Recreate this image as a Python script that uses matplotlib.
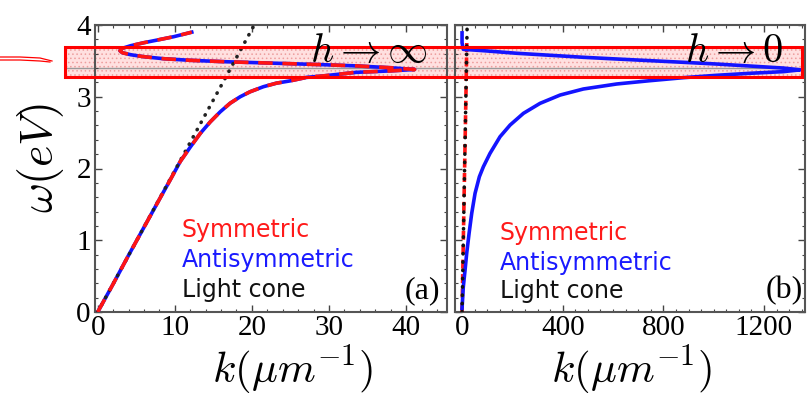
import matplotlib
matplotlib.use("Agg")
import matplotlib.pyplot as plt
from matplotlib.patches import Rectangle
from matplotlib.lines import Line2D
from matplotlib.ticker import MultipleLocator

plt.rcParams['mathtext.fontset'] = 'cm'
plt.rcParams['hatch.linewidth'] = 0.6

# ---- data ----
# panel (a): h -> infinity, symmetric and antisymmetric coincide
a_k = [0.0, 2.0, 4.0, 6.0, 8.0, 9.5, 10.72, 12.02, 13.31, 14.6, 15.89, 17.18, 18.48, 19.77,
       21.49, 23.2, 24.9, 27.1, 29.2, 33.5, 37.9, 41.1,
       37.9, 33.55, 29.2, 24.9, 20.6, 16.3, 12.0, 8.57, 5.98, 4.26, 3.19, 2.88,
       3.19, 4.26, 5.98, 7.71, 9.86, 12.2]
a_w = [0.0, 0.39, 0.79, 1.18, 1.57, 1.86, 2.10, 2.30, 2.49, 2.65, 2.79, 2.91, 3.00, 3.07,
       3.14, 3.19, 3.22, 3.27, 3.29, 3.34, 3.36, 3.38,
       3.405, 3.43, 3.447, 3.461, 3.475, 3.489, 3.508, 3.53, 3.558, 3.586, 3.614, 3.642,
       3.675, 3.711, 3.753, 3.79, 3.837, 3.90]
# light cone
lc_k = [0.0, 20.3]
lc_w = [0.0, 4.0]
# panel (b): h -> 0
bs_k = [0.0, 4.0, 8.0, 12.0, 16.0, 19.0]
bs_w = [0.0, 0.78, 1.57, 2.35, 3.12, 3.80]
ba_k = [0.0, 5.0, 12.0, 18.5, 28.0, 38.5, 51.7, 68.9, 84.8, 111.0, 151.0, 191.0, 244.0, 310.0,
        390.0, 482.0, 615.0, 747.0, 880.0, 1012.0, 1145.0, 1277.0, 1344.0,
        1277.0, 1145.0, 1012.0, 880.0, 747.0, 615.0, 482.0, 350.0, 217.0, 85.0, 5.0,
        0.0, 0.0]
ba_w = [0.05, 0.35, 0.585, 0.818, 1.097, 1.376, 1.654, 1.886, 2.025, 2.21, 2.443, 2.606, 2.769, 2.908,
        3.024, 3.108, 3.178, 3.224, 3.266, 3.299, 3.327, 3.35, 3.375,
        3.40, 3.428, 3.456, 3.48, 3.503, 3.526, 3.55, 3.578, 3.606, 3.642, 3.661,
        3.75, 3.89]

labels = ["Symmetric", "Antisymmetric", "Light cone"]
label_colors = ["#ff1a1a", "#1a1aff", "#111111"]

W, H = 812, 396
fig = plt.figure(figsize=(W / 100, H / 100), dpi=100)

def ax_rect(l, r, t, b):
    return [l / W, 1 - b / H, (r - l) / W, (b - t) / H]

axA = fig.add_axes(ax_rect(95, 447, 25, 312))
axB = fig.add_axes(ax_rect(455, 805, 25, 312))

serif = "Liberation Serif"
for ax in (axA, axB):
    ax.set_facecolor('none')
    ax.set_ylim(0, 4)
    ax.yaxis.set_major_locator(MultipleLocator(1))
    ax.yaxis.set_minor_locator(MultipleLocator(0.2))
    ax.tick_params(which='both', direction='in', top=True, right=True, color='#444444')
    ax.tick_params(which='major', length=5, width=1.0)
    ax.tick_params(which='minor', length=2.5, width=0.8)
    for s in ax.spines.values():
        s.set_color('#555555')
        s.set_linewidth(1.5)
    ax.tick_params(axis='x', labelsize=21, pad=2)
    ax.tick_params(axis='y', labelsize=21, pad=3)

axA.set_xlim(-0.35, 45.3)
axA.xaxis.set_major_locator(MultipleLocator(10))
axA.xaxis.set_minor_locator(MultipleLocator(2))
axB.set_xlim(-28, 1363)
axB.xaxis.set_major_locator(MultipleLocator(400))
axB.xaxis.set_minor_locator(MultipleLocator(50))
axB.tick_params(labelleft=False)

for ax in (axA, axB):
    for lab in ax.get_xticklabels() + ax.get_yticklabels():
        lab.set_fontfamily(serif)

dots = (0, (0.1, 2.2))
# panel (a)
axA.plot(a_k, a_w, color='#1414ff', lw=2.6, zorder=4)
axA.plot(lc_k, lc_w, color='#222222', lw=2.6, linestyle=dots, dash_capstyle='round', zorder=4.5)
axA.plot(a_k, a_w, color='#ff1414', lw=2.6, linestyle=(0, (4, 2.7)), zorder=5)

# panel (b)
axB.plot(bs_k, bs_w, color='#ff1414', lw=2.6, linestyle=(0, (2.5, 1.5)), zorder=4)
axB.plot(lc_k, lc_w, color='#111111', lw=2.6, linestyle=dots, dash_capstyle='round', zorder=5)
axB.plot(ba_k, ba_w, color='#1414ff', lw=2.6, zorder=4)

# legends as text
for x0, ys in ((182, (237, 267, 297)), (500, (240, 270, 298))):
    for txt, c, yb in zip(labels, label_colors, ys):
        fig.text(x0 / W, 1 - yb / H, txt, color=c, fontsize=17,
                 fontfamily='DejaVu Sans', ha='left', va='baseline')

fig.text(440 / W, 1 - 298 / H, "(a)", fontsize=23, fontfamily=serif, ha='right', va='baseline')
fig.text(803 / W, 1 - 298 / H, "(b)", fontsize=23, fontfamily=serif, ha='right', va='baseline')

fig.text(369 / W, 1 - 62 / H, r"$h\rightarrow\infty$", fontsize=29, ha='center', va='baseline', zorder=10)
fig.text(734 / W, 1 - 62 / H, r"$h\rightarrow 0$", fontsize=29, ha='center', va='baseline', zorder=10)

# axis labels
fig.text(41 / W, 1 - 158 / H, r"$\omega(eV)$", fontsize=33, rotation=90, ha='center', va='center')
fig.text(293 / W, 1 - 370 / H, r"$k(\mu m^{-1})$", fontsize=31, ha='center', va='center')
fig.text(632 / W, 1 - 370 / H, r"$k(\mu m^{-1})$", fontsize=31, ha='center', va='center')

# highlight annotation
rect = Rectangle((65 / W, 1 - 77 / H), (802 - 65) / W, 30 / H, transform=fig.transFigure,
                 facecolor=(1.0, 0.88, 0.88), edgecolor=(0.93, 0.62, 0.62), lw=0,
                 hatch='....', zorder=-2)
fig.patches.append(rect)
fig.add_artist(Line2D([65 / W, 802 / W], [1 - 68 / H, 1 - 68 / H], color='#9a9a9a', lw=1.0, zorder=-1))
border = Rectangle((65 / W, 1 - 77 / H), (802 - 65) / W, 30 / H, transform=fig.transFigure,
                   facecolor='none', edgecolor='#ff0000', lw=2.2, zorder=9)
fig.patches.append(border)
# hand-drawn marks at left
fig.add_artist(Line2D([0, 20 / W, 40 / W, 52 / W], [1 - 57 / H, 1 - 57 / H, 1 - 58 / H, 1 - 61 / H],
                      color='#ff0000', lw=0.9))
fig.add_artist(Line2D([0, 20 / W, 40 / W, 50 / W], [1 - 60 / H, 1 - 60 / H, 1 - 61 / H, 1 - 62 / H],
                      color='#ff0000', lw=0.9))

fig.savefig("out.png", dpi=100)
